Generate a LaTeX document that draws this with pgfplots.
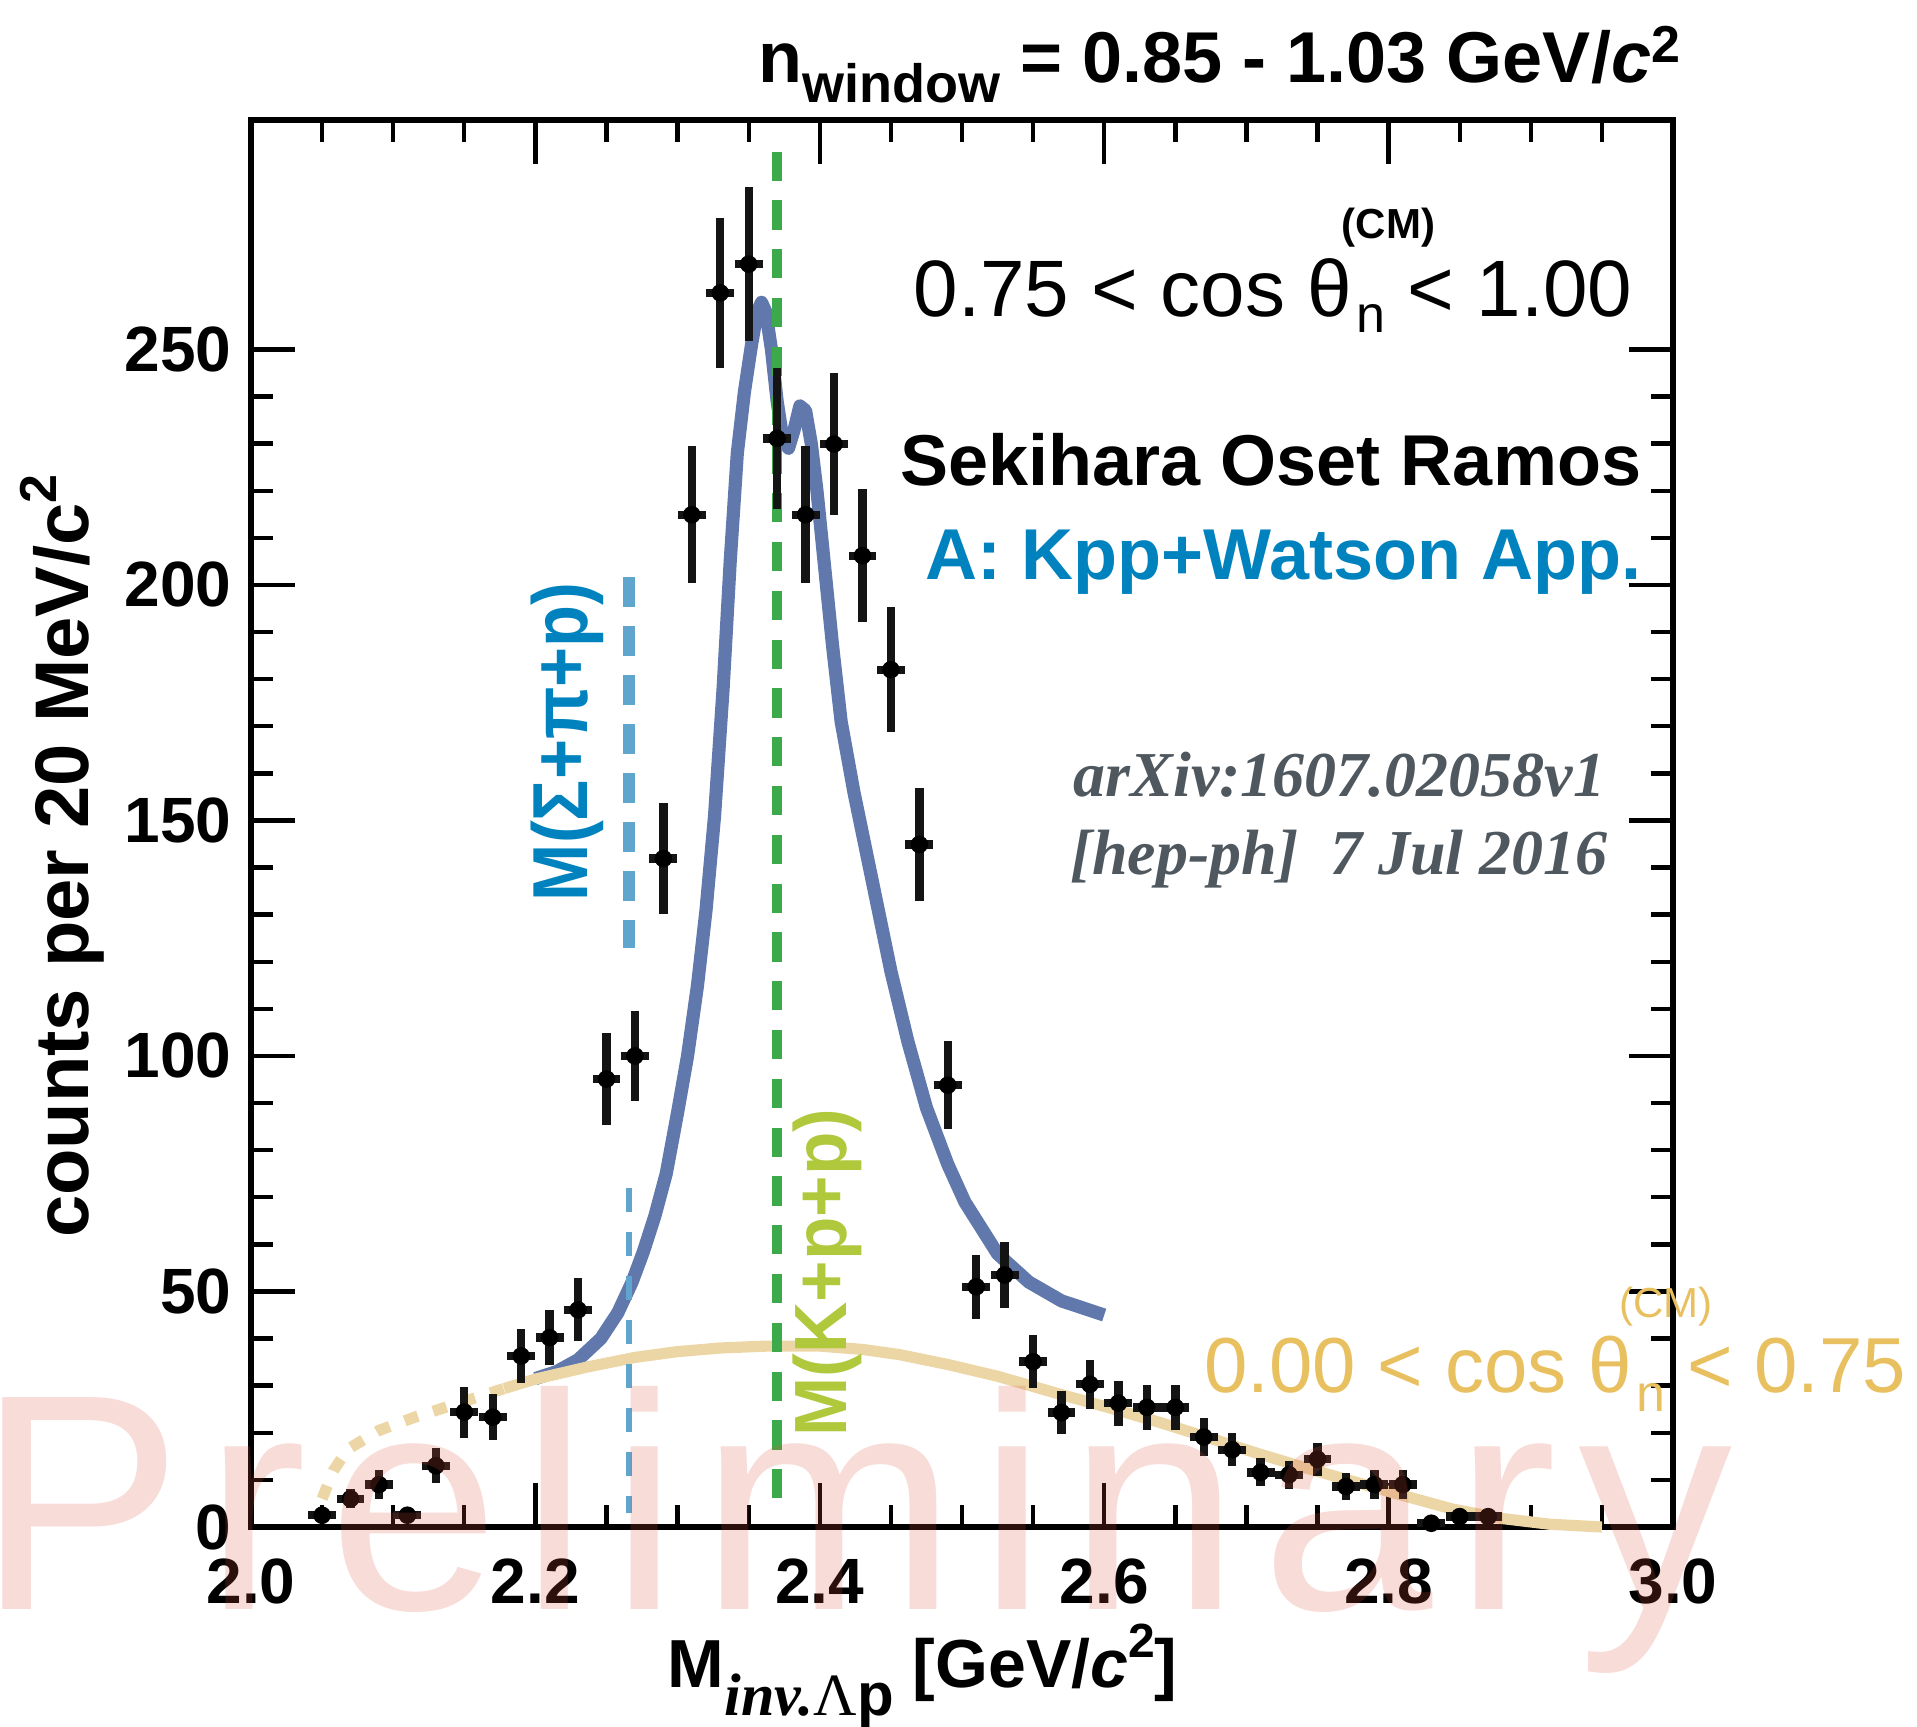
\documentclass[border=0pt]{standalone}
\usepackage{fontspec}
\setmainfont{Liberation Sans}
\newfontfamily\serif{Liberation Serif}
\newfontfamily\prelimfont[LetterSpace=7]{Liberation Sans}
\usepackage{pgfplots}
\pgfplotsset{compat=1.18}
\usepackage{pgfplotstable}

\definecolor{datablack}{RGB}{20,20,20}
\definecolor{kppblue}{RGB}{96,120,172}
\definecolor{beige}{RGB}{236,214,166}
\definecolor{kppgreen}{RGB}{60,170,75}
\definecolor{sigline}{RGB}{95,165,205}
\definecolor{labelblue}{RGB}{0,130,190}
\definecolor{ygreen}{RGB}{175,200,60}
\definecolor{goldtext}{RGB}{232,192,96}
\definecolor{arxivgray}{RGB}{80,88,95}
\definecolor{prelimred}{RGB}{220,80,60}

\pgfplotstableread{
x y ex ey
2.05 2.5 0.0098 1.2
2.07 6.0 0.0098 2.0
2.09 9.0 0.0098 3.0
2.11 2.5 0.0098 1.2
2.13 13.0 0.0098 3.7
2.15 24.4 0.0098 5.4
2.17 23.3 0.0098 4.9
2.19 36.3 0.0098 5.7
2.21 40.2 0.0098 5.9
2.23 46.1 0.0098 6.7
2.25 95.1 0.0098 9.7
2.27 100.0 0.0098 9.5
2.29 141.9 0.0098 11.7
2.31 214.9 0.0098 14.5
2.33 262.0 0.0098 16.0
2.35 268.1 0.0098 16.3
2.37 231.1 0.0098 15.0
2.39 214.9 0.0098 14.5
2.41 229.9 0.0098 15.0
2.43 206.2 0.0098 14.1
2.45 182.0 0.0098 13.3
2.47 144.9 0.0098 12.0
2.49 93.8 0.0098 9.4
2.51 51.0 0.0098 6.8
2.53 53.5 0.0098 7.0
2.55 35.1 0.0098 5.6
2.57 24.3 0.0098 4.5
2.59 30.3 0.0098 5.2
2.61 26.3 0.0098 4.8
2.63 25.4 0.0098 4.8
2.65 25.4 0.0098 4.8
2.67 19.1 0.0098 4.0
2.69 16.4 0.0098 3.5
2.71 11.6 0.0098 3.0
2.73 11.1 0.0098 3.0
2.75 14.4 0.0098 3.5
2.77 8.6 0.0098 2.8
2.79 9.0 0.0098 3.0
2.81 9.0 0.0098 3.0
2.83 0.8 0.0098 0.6
2.85 2.2 0.0098 1.0
2.87 2.2 0.0098 1.0
}\datatable

\begin{document}
\begin{tikzpicture}
\begin{axis}[
  scale only axis, width=355.5pt, height=351.75pt,
  xmin=2, xmax=3, ymin=0, ymax=298.7,
  clip=false,
  axis line style={line width=1.4pt, black},
  tick align=inside,
  major tick length=11pt, minor tick length=5.6pt,
  every tick/.style={line width=1.1pt, black},
  xtick={2,2.2,2.4,2.6,2.8,3}, xticklabels={2.0,2.2,2.4,2.6,2.8,3.0},
  ytick={0,50,100,150,200,250}, yticklabels={0,50,100,150,200,250},
  minor x tick num=3, minor y tick num=4,
  xtick pos=both, ytick pos=both,
  ticklabel style={font=\fontsize{16}{16}\selectfont\bfseries},
  xticklabel style={anchor=north, inner sep=0pt, yshift=-7.75pt},
  yticklabel style={anchor=east, inner sep=0pt, xshift=-4.75pt},
]
\coordinate (ll) at (rel axis cs:0,0);
\coordinate (ur) at (rel axis cs:1,1);
\coordinate (prelimpos) at (axis cs:1.807,-17.6);

% Kpp + Watson curve
\addplot[color=kppblue, line width=3.3pt, line join=round] coordinates {
(2.200,31.5) (2.215,33) (2.230,35.5) (2.246,40) (2.258,45.5) (2.268,52)
(2.276,58.5) (2.284,66) (2.292,75) (2.300,88) (2.307,100) (2.314,115)
(2.320,131) (2.326,151) (2.332,178) (2.337,205) (2.342,228) (2.347,241)
(2.352,251) (2.356,258) (2.359,260) (2.362,258) (2.366,250) (2.370,239)
(2.374,231) (2.378,229) (2.382,233) (2.386,238) (2.390,237) (2.394,230)
(2.398,220) (2.403,205) (2.409,187) (2.415,171) (2.424,156) (2.437,137)
(2.450,118) (2.462,103) (2.475,89) (2.490,77) (2.502,69) (2.525,58)
(2.547,52) (2.570,48) (2.600,45)
};

% 0.00 < cos < 0.75 shape, dotted part
\addplot[color=beige, line width=2.8pt, dash pattern=on 3.5pt off 4pt] coordinates {
(2.050,6) (2.058,12) (2.068,16.5) (2.090,20.5) (2.115,23.3) (2.145,26.2) (2.178,29.4)
};
% solid part
\addplot[color=beige, line width=2.8pt, line join=round] coordinates {
(2.178,29.4) (2.200,31.4) (2.237,34) (2.270,36) (2.299,37.2) (2.330,38)
(2.362,38.4) (2.400,38.4) (2.430,37.7) (2.456,36.6) (2.490,34.5) (2.525,32)
(2.570,28.1) (2.605,25.2) (2.639,22.2) (2.673,19) (2.707,15.7) (2.741,12.6)
(2.776,9.6) (2.810,6.7) (2.845,3.8) (2.880,1.8) (2.913,0.6) (2.950,0)
};

% threshold lines
\addplot[color=sigline, line width=3.1pt, dash pattern=on 7.5pt off 4.75pt] coordinates {(2.266,201.6) (2.266,123)};
\addplot[color=sigline, line width=1.5pt, dash pattern=on 6pt off 5pt] coordinates {(2.266,72) (2.266,3)};
\addplot[color=kppgreen, line width=2.4pt, dash pattern=on 7.3pt off 4.9pt] coordinates {(2.37,292) (2.37,3)};

\node[rotate=90, anchor=base west, inner sep=0pt, font=\fontsize{19.5}{19.5}\selectfont\bfseries, text=labelblue] at (axis cs:2.2363,132.7) {\scalebox{0.88}[1]{M(Σ+π+p)}};
\node[rotate=90, anchor=base west, inner sep=0pt, font=\fontsize{18.5}{18.5}\selectfont\bfseries, text=ygreen] at (axis cs:2.4191,19.1) {\scalebox{0.96}[1]{M(K+p+p)}};

% data
\addplot[only marks, mark=none, error bars/.cd, x dir=both, x explicit, y dir=both, y explicit, error mark=none, error bar style={line width=2.1pt, color=datablack}] table[x=x, y=y, x error=ex, y error=ey] {\datatable};

% texts
\node[anchor=base west, inner sep=0pt, font=\fontsize{18}{18}\selectfont\bfseries] at (axis cs:2.3565,306.6) {n\raisebox{-5pt}{\fontsize{13.5}{13.5}\selectfont window} = 0.85 - 1.03 GeV/\textit{c}\raisebox{5pt}{\fontsize{13}{13}\selectfont 2}};

\node[anchor=base west, inner sep=0pt, font=\fontsize{20}{20}\selectfont] at (axis cs:2.4655,256.9) {0.75 < cos θ\rlap{\hspace{-2.5pt}\raisebox{19.6pt}{\fontsize{10.5}{10.5}\selectfont\bfseries (CM)}}\kern1.2pt\raisebox{-3.9pt}{\fontsize{13}{13}\selectfont n} < 1.00};

\node[anchor=base west, inner sep=0pt, font=\fontsize{18}{18}\selectfont\bfseries] at (axis cs:2.4564,221.0) {Sekihara Oset Ramos};
\node[anchor=base west, inner sep=0pt, font=\fontsize{18}{18}\selectfont\bfseries, text=labelblue] at (axis cs:2.474,201.1) {A: Kpp+Watson App.};

\node[anchor=base west, inner sep=0pt, font=\fontsize{16}{16}\selectfont\serif\bfseries\itshape, text=arxivgray] at (axis cs:2.578,155.0) {arXiv:1607.02058v1};
\node[anchor=base west, inner sep=0pt, font=\fontsize{16}{16}\selectfont\serif\bfseries\itshape, text=arxivgray] at (axis cs:2.576,138.6) {[hep-ph]\ \ 7 Jul 2016};

\node[anchor=base west, inner sep=0pt, font=\fontsize{19.5}{19.5}\selectfont, text=goldtext] at (axis cs:2.670,28.45) {0.00 < cos θ\rlap{\hspace{-3pt}\raisebox{18.75pt}{\fontsize{10.5}{10.5}\selectfont (CM)}}\kern1.2pt\raisebox{-4.75pt}{\fontsize{13}{13}\selectfont n} < 0.75};

% axis labels
\node[rotate=90, anchor=base, inner sep=0pt, font=\fontsize{19}{19}\selectfont\bfseries] at (rel axis cs:-0.1146,0.4769) {counts per 20 MeV/c\raisebox{8pt}{\fontsize{13}{13}\selectfont 2}};

\node[anchor=base west, inner sep=0pt, font=\fontsize{17}{17}\selectfont\bfseries] at (axis cs:2.2925,-34.0) {M\raisebox{-7pt}{\fontsize{15}{15}\selectfont{\serif\bfseries\itshape inv.}{\serif\mdseries Λ}p}\ [GeV/\textit{c}\raisebox{7.5pt}{\fontsize{12}{12}\selectfont 2}]};
\end{axis}

\node[anchor=base west, inner sep=0pt, text=prelimred, text opacity=0.2, font=\fontsize{77}{77}\selectfont\prelimfont] at (prelimpos) {Preliminary};

\pgfresetboundingbox
\useasboundingbox ([xshift=-62.75pt,yshift=-49.75pt]ll) rectangle ([xshift=61pt,yshift=30pt]ur);
\end{tikzpicture}
\end{document}
